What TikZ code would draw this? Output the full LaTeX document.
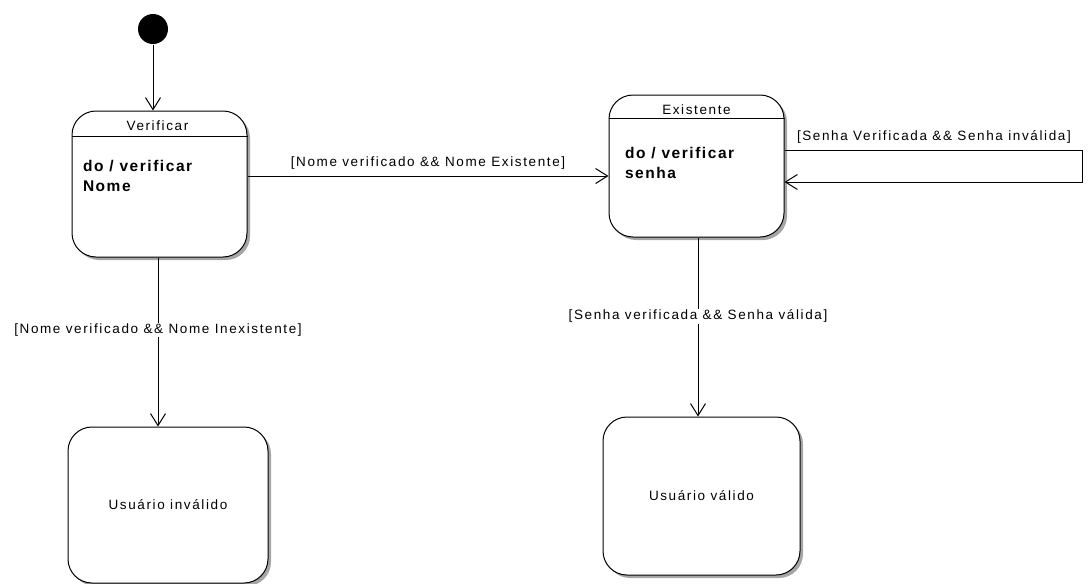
\documentclass[tikz,border=0pt]{standalone}
\usepackage{fontspec}
\newfontfamily\umlfont[LetterSpace=12]{Liberation Sans}
\newfontfamily\umlbold[LetterSpace=10]{Liberation Sans}
\usetikzlibrary{arrows.meta,shadows,calc}
\begin{document}
\begin{tikzpicture}[x=1pt,y=-1pt,line width=1pt,
  statebox/.style={draw,fill=white,rounded corners=24pt,inner sep=0pt,
    drop shadow={shadow xshift=3pt,shadow yshift=-3pt,opacity=0.35,fill=black}},
  lbl/.style={font=\umlfont\fontsize{13.5}{16}\selectfont,inner sep=1pt},
  lblw/.style={lbl,fill=white},
  body/.style={font=\umlbold\fontsize{15.5}{20.5}\selectfont\bfseries,align=left,inner sep=0pt},
  trans/.style={-{Straight Barb[length=12pt,width=15pt]}},
  initstate/.style={circle,fill=black,minimum size=30pt,inner sep=0pt}]
\useasboundingbox (0,0) rectangle (1088,584);

% initial pseudo-state
\node[initstate] (init) at (153,29) {};

% states
\node[statebox,minimum width=175pt,minimum height=146pt] (verif) at (159.5,184) {};
\node[statebox,minimum width=175pt,minimum height=142pt] (exist) at (696.5,166) {};
\node[statebox,minimum width=200pt,minimum height=156pt,lbl] (inval) at (168,505) {Usuário inválido};
\node[statebox,minimum width=197pt,minimum height=158pt,lbl] (valid) at (701.5,496) {Usuário válido};

% compartments of the composite states
\draw ($(verif.north west)+(0,26)$) -- ($(verif.north east)+(0,26)$);
\draw ($(exist.north west)+(0,24)$) -- ($(exist.north east)+(0,24)$);
\node[lbl,anchor=base] (verift) at ($(verif.north)+(-2,20)$) {Verificar};
\node[lbl,anchor=base] (existt) at ($(exist.north)+(0,20)$) {Existente};
% the base anchor of a two-line node sits on its last line
\node[body,anchor=base west] (verifb) at ($(verif.north west)+(11,81)$) {do / verificar\\Nome};
\node[body,anchor=base west] (existb) at ($(exist.north west)+(16,84)$) {do / verificar\\senha};

% transitions
\draw[trans] (init) -- (init |- verif.north);

\coordinate (vr) at (verif.east |- 0,176);
\draw[trans] (vr) -- node[lbl,above=5pt] (l1) {[Nome verificado \&\& Nome Existente]} (exist.west |- vr);

\coordinate (vb) at (158,0);
\draw[trans] (vb |- verif.south) -- node[lblw,pos=0.43] (l2) {[Nome verificado \&\& Nome Inexistente]} (vb |- inval.north);

\coordinate (eb) at (698,0);
\draw[trans] (eb |- exist.south) -- node[lblw,pos=0.44] (l3) {[Senha verificada \&\& Senha válida]} (eb |- valid.north);

% self transition on Existente
\coordinate (s1) at (exist.east |- 0,150);
\coordinate (s2) at (1082,150);
\coordinate (s3) at (1082,182);
\coordinate (s4) at (exist.east |- 0,182);
\draw[trans] (s1) -- (s2) -- (s3) -- (s4);
\node[lbl,anchor=base west] (l4) at ($(s1)+(11,-10)$) {[Senha Verificada \&\& Senha inválida]};
\end{tikzpicture}
\end{document}
